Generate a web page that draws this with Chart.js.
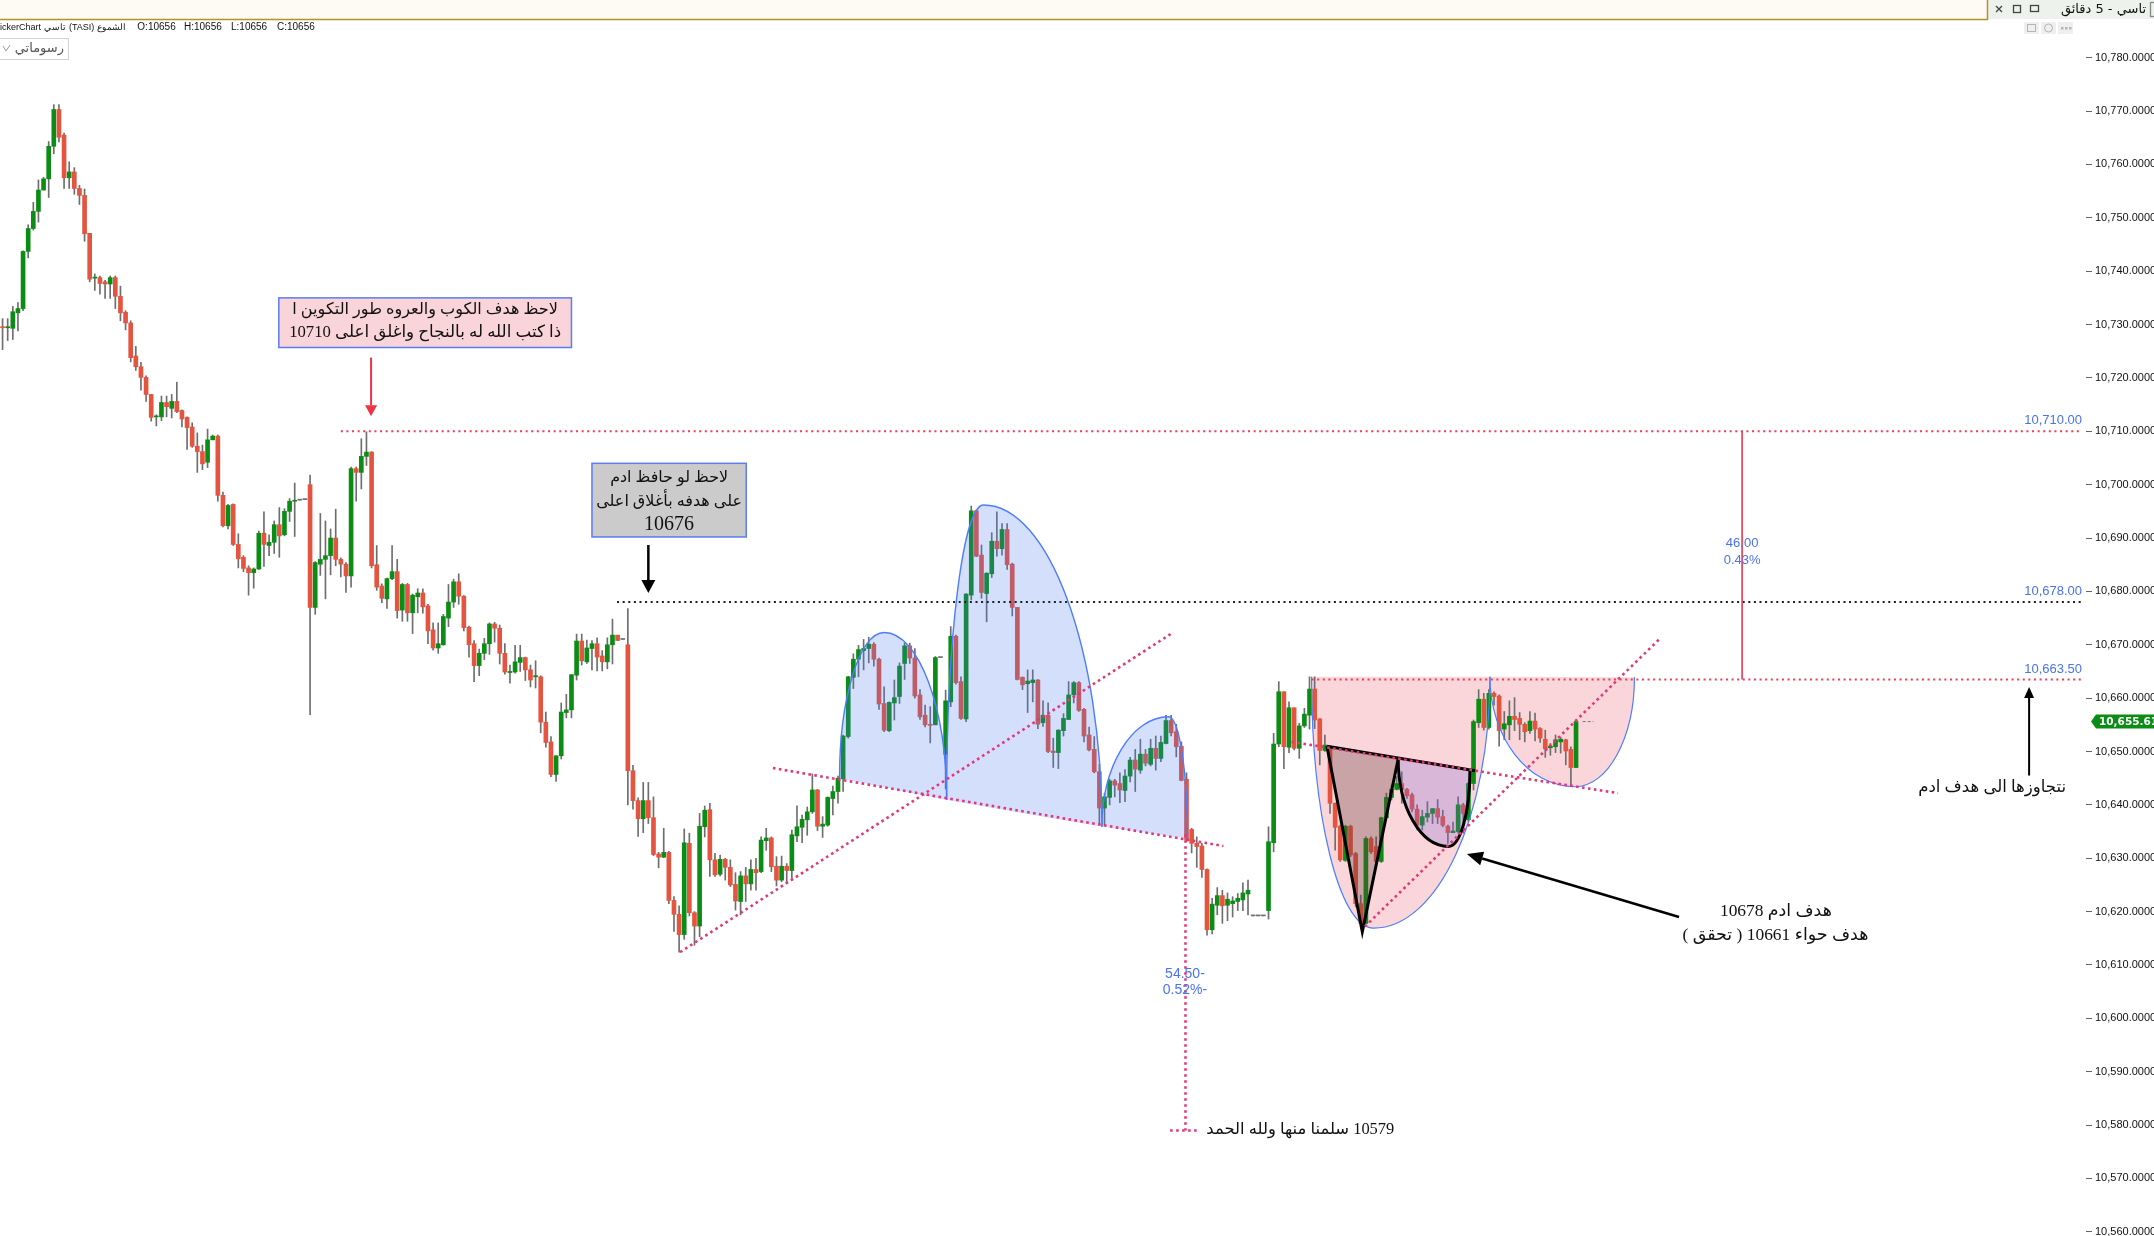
<!DOCTYPE html>
<html>
<head>
<meta charset="utf-8">
<title>تاسي - 5 دقائق</title>
<script src="https://cdn.jsdelivr.net/npm/chart.js@4.4.1/dist/chart.umd.min.js"></script>
<style>
  html, body { margin: 0; padding: 0; background: #fff; }
  #wrap { position: relative; width: 2154px; height: 1236px; }
</style>
</head>
<body>
<div id="wrap"><canvas id="chart"></canvas></div>
<script>
// 5 minute candles, TASI
const opens = [
  10729.6, 10729.4, 10729.3, 10732.2, 10733.0, 10743.7, 10748.0, 10751.2, 10755.2, 10757.3,
  10763.4, 10770.3, 10765.5, 10757.5, 10758.6, 10755.5, 10754.2, 10747.1, 10738.7, 10738.8,
  10738.0, 10737.6, 10738.8, 10735.3, 10732.3, 10730.3, 10724.1, 10722.1, 10720.1, 10716.9,
  10712.7, 10712.7, 10715.4, 10714.3, 10715.6, 10713.9, 10712.6, 10710.8, 10707.2, 10706.2,
  10704.2, 10708.4, 10709.1, 10698.0, 10692.3, 10696.3, 10688.8, 10686.4, 10684.4, 10683.5,
  10684.2, 10690.9, 10688.6, 10689.2, 10692.5, 10690.6, 10695.0, 10696.9, 10697.1, 10697.2,
  10700.0, 10677.0, 10685.1, 10686.0, 10686.7, 10690.0, 10686.0, 10685.1, 10682.9, 10703.0,
  10702.3, 10705.3, 10706.1, 10685.0, 10681.0, 10678.6, 10682.4, 10683.7, 10676.5, 10681.3,
  10676.0, 10679.0, 10679.7, 10677.3, 10672.8, 10669.4, 10670.0, 10675.0, 10678.0, 10681.8,
  10679.1, 10673.3, 10670.2, 10666.1, 10668.4, 10670.2, 10673.9, 10673.1, 10668.4, 10664.8,
  10664.9, 10666.7, 10667.6, 10665.3, 10664.0, 10664.0, 10655.5, 10651.8, 10645.7, 10649.2,
  10657.3, 10657.8, 10664.3, 10670.7, 10666.8, 10669.3, 10670.2, 10667.9, 10666.8, 10670.0,
  10671.8, 10671.0, 10670.0, 10646.4, 10640.8, 10637.4, 10640.8, 10637.6, 10630.8, 10630.2,
  10631.1, 10622.1, 10619.5, 10615.7, 10632.8, 10619.8, 10617.3, 10635.9, 10639.1, 10629.7,
  10627.0, 10629.8, 10628.3, 10625.1, 10621.9, 10626.7, 10625.2, 10627.9, 10627.5, 10633.3,
  10633.8, 10628.5, 10625.9, 10628.5, 10627.7, 10634.2, 10635.8, 10637.2, 10638.7, 10642.8,
  10636.0, 10636.2, 10641.2, 10642.5, 10644.9, 10652.8, 10663.9, 10667.3, 10668.9, 10669.3,
  10670.1, 10667.3, 10659.0, 10653.9, 10659.1, 10660.3, 10666.5, 10669.8, 10667.5, 10660.6,
  10656.8, 10655.1, 10655.0, 10667.6, 10649.5, 10659.3, 10671.6, 10663.1, 10656.1, 10679.3,
  10695.1, 10686.8, 10679.6, 10683.3, 10689.4, 10688.0, 10691.6, 10685.1, 10677.0, 10663.9,
  10662.7, 10662.9, 10663.4, 10655.4, 10656.8, 10650.1, 10649.8, 10653.9, 10656.0, 10660.6,
  10662.9, 10657.9, 10653.1, 10650.4, 10646.2, 10639.4, 10641.4, 10644.5, 10644.0, 10642.7,
  10645.4, 10648.4, 10646.5, 10649.5, 10647.6, 10650.6, 10648.7, 10651.5, 10655.8, 10653.7,
  10651.0, 10644.8, 10635.4, 10632.8, 10632.3, 10627.9, 10616.6, 10621.2, 10623.0, 10621.2,
  10621.5, 10621.9, 10622.2, 10623.3, 10619.2, 10619.2, 10619.2, 10620.2, 10632.9, 10651.4,
  10661.2, 10650.8, 10658.2, 10650.6, 10654.8, 10656.8, 10661.7, 10656.1, 10650.2, 10650.9,
  10640.3, 10636.0, 10629.6, 10636.0, 10630.9, 10621.5, 10617.8, 10633.7, 10632.2, 10629.4,
  10637.6, 10641.4, 10642.9, 10644.0, 10642.9, 10641.9, 10639.2, 10636.2, 10637.7, 10638.4,
  10639.3, 10637.8, 10636.0, 10634.8, 10635.0, 10640.0, 10637.2, 10644.0, 10655.4, 10659.8,
  10654.5, 10660.9, 10660.4, 10654.2, 10655.0, 10656.6, 10656.2, 10655.1, 10653.9, 10655.7,
  10654.3, 10652.3, 10650.7, 10650.9, 10651.8, 10652.2, 10650.4, 10647.0
];
const highs = [
  10731.1, 10731.1, 10733.4, 10734.1, 10743.8, 10748.7, 10752.9, 10757.1, 10757.6, 10764.3,
  10771.2, 10771.2, 10765.9, 10760.5, 10759.4, 10756.1, 10755.4, 10747.1, 10739.5, 10739.1,
  10738.3, 10739.1, 10739.1, 10737.2, 10732.6, 10730.7, 10725.9, 10722.9, 10720.4, 10716.9,
  10713.1, 10716.6, 10716.6, 10716.9, 10719.2, 10714.0, 10712.7, 10711.6, 10709.7, 10707.4,
  10710.4, 10709.3, 10709.3, 10698.6, 10696.3, 10696.4, 10690.8, 10686.7, 10684.8, 10684.4,
  10691.3, 10694.9, 10690.6, 10693.2, 10695.7, 10695.5, 10697.4, 10700.3, 10697.1, 10697.2,
  10701.8, 10685.6, 10694.6, 10693.2, 10691.7, 10695.4, 10686.3, 10685.4, 10703.3, 10703.3,
  10708.6, 10709.9, 10706.2, 10688.6, 10681.4, 10682.5, 10688.6, 10686.0, 10681.5, 10681.5,
  10679.5, 10680.5, 10680.5, 10677.6, 10674.1, 10674.1, 10675.7, 10681.3, 10682.3, 10683.3,
  10679.2, 10673.5, 10670.8, 10669.2, 10671.2, 10674.1, 10674.2, 10673.7, 10670.2, 10666.2,
  10669.9, 10669.9, 10667.7, 10666.2, 10667.0, 10664.2, 10657.4, 10652.8, 10649.2, 10659.1,
  10660.7, 10664.4, 10672.0, 10672.0, 10670.9, 10670.8, 10671.3, 10668.9, 10671.3, 10674.8,
  10671.8, 10671.0, 10676.8, 10647.4, 10641.3, 10644.2, 10644.2, 10641.5, 10631.1, 10635.6,
  10631.3, 10622.8, 10621.1, 10635.5, 10634.7, 10620.0, 10638.4, 10639.8, 10640.3, 10630.9,
  10630.6, 10630.0, 10629.7, 10627.3, 10627.5, 10628.3, 10629.7, 10630.0, 10634.0, 10635.6,
  10634.0, 10630.3, 10630.4, 10629.0, 10635.3, 10639.8, 10638.1, 10639.6, 10645.8, 10642.9,
  10637.8, 10641.5, 10643.5, 10645.4, 10653.1, 10664.1, 10668.3, 10669.9, 10671.0, 10671.4,
  10670.4, 10667.5, 10662.1, 10659.3, 10663.4, 10666.6, 10670.4, 10670.3, 10669.3, 10661.6,
  10658.7, 10658.4, 10667.8, 10667.6, 10661.5, 10673.4, 10671.8, 10664.0, 10679.6, 10696.0,
  10695.2, 10688.7, 10683.5, 10691.0, 10694.9, 10692.7, 10692.7, 10685.3, 10677.0, 10664.0,
  10665.3, 10665.3, 10663.5, 10659.5, 10659.1, 10652.5, 10654.1, 10657.1, 10663.1, 10663.1,
  10663.1, 10658.1, 10654.6, 10652.8, 10647.6, 10642.2, 10644.8, 10644.8, 10646.0, 10646.6,
  10648.9, 10650.4, 10652.3, 10650.4, 10652.3, 10652.9, 10652.9, 10656.8, 10656.8, 10655.1,
  10651.8, 10646.0, 10635.6, 10634.0, 10632.8, 10628.0, 10622.5, 10624.5, 10624.0, 10623.5,
  10622.8, 10623.4, 10625.4, 10625.9, 10619.2, 10619.2, 10619.2, 10635.9, 10653.4, 10663.1,
  10661.2, 10659.3, 10658.2, 10655.3, 10658.1, 10664.0, 10664.0, 10656.2, 10653.1, 10651.0,
  10640.4, 10636.2, 10636.2, 10636.2, 10631.1, 10623.1, 10634.0, 10634.0, 10634.0, 10637.7,
  10642.2, 10643.7, 10645.3, 10646.2, 10643.1, 10642.2, 10640.0, 10639.0, 10640.6, 10639.3,
  10641.0, 10639.0, 10636.2, 10636.8, 10641.5, 10640.3, 10644.3, 10655.9, 10661.6, 10660.9,
  10661.6, 10661.2, 10660.6, 10657.5, 10659.5, 10660.1, 10657.3, 10655.4, 10657.5, 10657.2,
  10654.5, 10654.0, 10651.5, 10653.1, 10652.7, 10652.3, 10650.9, 10655.9
];
const lows = [
  10725.3, 10727.0, 10727.2, 10728.8, 10732.6, 10742.5, 10747.7, 10749.2, 10755.2, 10753.8,
  10762.0, 10764.2, 10755.5, 10755.5, 10754.4, 10752.5, 10745.6, 10738.0, 10736.4, 10735.7,
  10734.9, 10734.9, 10733.0, 10730.7, 10729.0, 10723.0, 10721.4, 10717.7, 10715.6, 10711.9,
  10711.0, 10712.0, 10712.7, 10712.5, 10713.5, 10710.8, 10706.6, 10707.0, 10702.3, 10702.8,
  10703.2, 10708.4, 10696.9, 10692.1, 10691.7, 10688.6, 10684.4, 10683.7, 10679.3, 10680.6,
  10684.1, 10684.7, 10686.7, 10687.1, 10686.4, 10690.4, 10693.1, 10690.3, 10697.1, 10697.2,
  10656.9, 10675.7, 10683.0, 10678.6, 10683.1, 10684.8, 10682.7, 10679.8, 10680.8, 10696.9,
  10699.2, 10703.6, 10684.4, 10680.2, 10677.9, 10676.8, 10682.2, 10675.0, 10674.4, 10674.4,
  10672.1, 10676.0, 10675.9, 10670.2, 10669.0, 10668.4, 10669.9, 10673.4, 10677.0, 10677.6,
  10672.6, 10667.7, 10663.1, 10664.2, 10667.2, 10668.2, 10670.5, 10666.4, 10664.5, 10662.8,
  10664.7, 10665.0, 10663.3, 10662.1, 10661.9, 10653.5, 10650.8, 10645.3, 10644.4, 10648.6,
  10656.3, 10656.3, 10663.4, 10666.2, 10666.5, 10665.3, 10665.1, 10665.1, 10665.5, 10666.4,
  10670.8, 10671.0, 10640.0, 10639.2, 10634.1, 10634.8, 10636.5, 10630.5, 10628.2, 10630.1,
  10621.5, 10616.3, 10612.4, 10614.8, 10619.2, 10613.7, 10615.3, 10634.0, 10626.6, 10626.6,
  10626.7, 10625.9, 10624.7, 10620.3, 10619.4, 10621.9, 10624.0, 10624.0, 10627.3, 10631.5,
  10627.5, 10624.8, 10625.6, 10625.3, 10626.2, 10633.1, 10632.9, 10634.3, 10638.4, 10635.2,
  10633.9, 10636.0, 10638.1, 10640.3, 10642.5, 10652.5, 10661.8, 10664.0, 10665.3, 10666.6,
  10666.0, 10657.9, 10653.7, 10653.7, 10655.9, 10659.0, 10663.5, 10666.5, 10660.0, 10656.0,
  10654.6, 10651.6, 10655.0, 10667.6, 10643.0, 10658.4, 10662.6, 10656.0, 10655.6, 10678.4,
  10686.5, 10678.7, 10674.3, 10682.6, 10686.6, 10686.8, 10684.1, 10675.4, 10663.4, 10661.6,
  10657.3, 10659.3, 10654.3, 10654.7, 10649.8, 10647.0, 10646.8, 10652.9, 10656.0, 10659.1,
  10657.5, 10651.8, 10650.1, 10646.0, 10636.4, 10636.2, 10640.0, 10641.5, 10640.4, 10640.6,
  10644.3, 10642.5, 10645.9, 10647.3, 10647.3, 10646.5, 10648.1, 10651.4, 10652.9, 10649.0,
  10644.5, 10633.1, 10631.0, 10628.3, 10626.4, 10615.6, 10615.8, 10619.4, 10617.8, 10618.3,
  10619.0, 10620.2, 10620.2, 10619.4, 10619.2, 10619.2, 10619.2, 10618.6, 10631.2, 10650.9,
  10646.8, 10649.8, 10650.3, 10648.7, 10654.5, 10654.2, 10654.3, 10647.5, 10650.0, 10638.4,
  10631.5, 10629.4, 10629.4, 10630.3, 10620.9, 10616.8, 10617.7, 10630.9, 10629.2, 10629.2,
  10637.5, 10640.9, 10642.8, 10640.3, 10641.2, 10638.7, 10635.3, 10635.3, 10636.8, 10636.5,
  10636.5, 10635.9, 10632.8, 10634.8, 10634.7, 10634.7, 10636.9, 10642.8, 10654.5, 10654.0,
  10654.2, 10658.7, 10651.0, 10652.2, 10652.2, 10653.9, 10652.2, 10651.8, 10653.4, 10652.0,
  10651.7, 10648.9, 10649.3, 10649.8, 10649.7, 10647.5, 10643.4, 10647.0
];
const closes = [
  10729.4, 10729.6, 10732.4, 10733.0, 10743.7, 10748.0, 10751.2, 10755.2, 10757.3, 10763.4,
  10770.3, 10765.1, 10757.5, 10758.6, 10755.5, 10754.2, 10747.0, 10738.5, 10738.8, 10737.7,
  10737.6, 10738.8, 10735.3, 10732.2, 10730.3, 10723.8, 10722.1, 10720.1, 10716.9, 10712.6,
  10712.8, 10715.4, 10714.6, 10715.6, 10713.7, 10712.3, 10710.7, 10707.2, 10706.2, 10703.9,
  10708.4, 10709.1, 10698.0, 10692.3, 10696.1, 10688.8, 10686.1, 10684.3, 10683.5, 10684.2,
  10690.9, 10688.8, 10689.2, 10692.5, 10690.4, 10695.0, 10696.9, 10697.0, 10697.1, 10697.2,
  10677.0, 10685.4, 10686.0, 10686.7, 10690.0, 10686.0, 10685.1, 10682.9, 10703.0, 10702.3,
  10705.3, 10706.1, 10684.8, 10680.8, 10678.7, 10682.4, 10683.7, 10676.4, 10681.3, 10676.0,
  10679.3, 10679.7, 10677.1, 10672.6, 10669.4, 10670.2, 10675.3, 10678.0, 10681.8, 10679.1,
  10673.2, 10670.0, 10666.1, 10668.4, 10670.2, 10673.9, 10673.1, 10668.4, 10664.9, 10665.0,
  10666.8, 10667.6, 10665.3, 10663.4, 10664.2, 10655.5, 10651.7, 10645.7, 10649.2, 10657.4,
  10657.8, 10664.4, 10670.7, 10667.0, 10669.4, 10670.2, 10667.7, 10666.8, 10670.0, 10671.8,
  10670.8, 10671.0, 10646.4, 10640.8, 10637.4, 10640.8, 10637.6, 10630.7, 10630.2, 10631.1,
  10622.1, 10619.5, 10615.7, 10632.9, 10619.8, 10617.3, 10636.0, 10639.0, 10629.7, 10626.9,
  10629.8, 10628.3, 10625.0, 10622.0, 10626.7, 10625.2, 10627.9, 10627.3, 10633.4, 10633.8,
  10628.4, 10625.9, 10628.5, 10627.7, 10634.4, 10635.9, 10637.3, 10638.7, 10642.8, 10636.0,
  10636.4, 10641.4, 10642.5, 10645.0, 10652.9, 10664.0, 10667.3, 10669.1, 10669.3, 10670.1,
  10667.3, 10658.9, 10654.0, 10659.2, 10660.1, 10666.0, 10669.8, 10667.5, 10660.4, 10656.5,
  10655.0, 10654.9, 10667.6, 10667.6, 10659.5, 10671.6, 10662.9, 10656.2, 10679.5, 10695.1,
  10686.6, 10679.8, 10683.4, 10689.4, 10688.0, 10691.6, 10685.0, 10677.0, 10663.5, 10662.5,
  10663.2, 10663.4, 10655.1, 10656.8, 10650.0, 10649.8, 10654.0, 10656.2, 10660.6, 10662.9,
  10657.7, 10652.9, 10650.3, 10646.2, 10639.4, 10641.5, 10644.5, 10643.7, 10642.8, 10645.4,
  10648.4, 10646.7, 10649.5, 10647.8, 10650.6, 10648.7, 10651.7, 10655.8, 10653.5, 10650.9,
  10644.6, 10633.5, 10632.8, 10632.2, 10627.9, 10616.6, 10621.4, 10623.0, 10621.1, 10622.3,
  10622.0, 10622.5, 10623.5, 10624.0, 10619.2, 10619.2, 10619.2, 10633.1, 10651.4, 10661.2,
  10650.9, 10658.2, 10650.6, 10654.8, 10657.0, 10661.7, 10655.9, 10650.2, 10651.2, 10640.3,
  10635.8, 10629.7, 10636.0, 10630.6, 10621.5, 10617.8, 10633.7, 10631.2, 10629.4, 10637.6,
  10641.4, 10642.9, 10644.0, 10642.9, 10641.7, 10639.2, 10636.2, 10637.8, 10638.4, 10639.3,
  10637.7, 10636.2, 10634.8, 10635.1, 10640.0, 10638.4, 10644.0, 10655.6, 10659.8, 10654.5,
  10660.9, 10660.3, 10653.9, 10655.2, 10656.6, 10656.0, 10655.1, 10653.7, 10655.7, 10654.2,
  10652.5, 10650.5, 10651.0, 10652.2, 10652.3, 10650.1, 10647.0, 10655.6
];
const yTicks = [10560, 10570, 10580, 10590, 10600, 10610, 10620, 10630, 10640, 10650, 10660,
  10670, 10680, 10690, 10700, 10710, 10720, 10730, 10740, 10750, 10760, 10770, 10780];
const lastPrice = 10655.61;
const SLOTS = 407;   // candle slots across the plot, the right part is empty

// drawn objects, in [candle index, price]
const hsShapes = [
  [[163.3, 10645.0], [172.0, 10672.3], [184.2, 10640.9]],
  [[184.2, 10640.9], [191.4, 10696.2], [214.5, 10635.9]],
  [[214.5, 10635.9], [227.5, 10656.5], [231.2, 10633.7]]
];
const cup = [[255.4, 10664.0], [267.5, 10616.9], [290.2, 10664.0]];
const handle = [[290.2, 10664.0], [306.8, 10643.4], [318.4, 10663.9]];
const adam = [[258.4, 10651.0], [265.3, 10616.2], [272.3, 10648.6]];
const eve = [[272.3, 10648.6], [282.1, 10632.2], [286.3, 10646.5]];
const adamEveTop = [[258.4, 10651.0], [287.3, 10646.4]];
const neckline = [[150.3, 10646.9], [238.2, 10632.3]];
const upTrend = [[132.2, 10612.4], [228.2, 10672.2]];
const cupTrend = [[265.8, 10617.2], [323.3, 10671.1]];
const handleLine = [[251.5, 10651.8], [315.2, 10642.2]];
const dropLine = [[230.8, 10634.5], [230.8, 10579]];
const dropFoot = [[227.8, 10579], [233.2, 10579]];
const levelLines = [
  { price: 10710, from: 66.0, color: '#ee3b57', label: '10,710.00' },
  { price: 10678, from: 119.9, color: '#1e1e1e', label: '10,678.00' },
  { price: 10663.5, from: 255.4, color: '#ee3b57', label: '10,663.50' }
];
const measure = { x: 339.4, top: 10710, bottom: 10663.5, label1: '46.00', label2: '0.43%' };
const infoLine = ['ickerChart', 'تاسي', '(TASI)', 'الشموع'];
const ohlcLine = ['O:10656', 'H:10656', 'L:10656', 'C:10656'];
const ohlcX = [136, 184, 231, 277];

const UP = '#0b8c14', DOWN = '#e4543f', FLAT = '#707070', WICK = '#6e6e6e';
const TREND = '#e2377a', BLUE = '#4a72f2';
const SERIF = "'Liberation Serif', 'DejaVu Sans', serif";

const labels = Array.from({ length: SLOTS }, (_, i) => String(i));
const wicks = lows.map((l, i) => [l, highs[i]]);
const bodies = opens.map((o, i) => [o, closes[i]]);
const bodyColors = opens.map((o, i) => closes[i] > o ? UP : (closes[i] < o ? DOWN : FLAT));

function fmt(v) {
  return Number(v).toLocaleString('en-US', { minimumFractionDigits: 4, maximumFractionDigits: 4 });
}

function hump(ctx, a, p, b) {
  const k = 0.552;
  ctx.moveTo(a[0], a[1]);
  ctx.bezierCurveTo(a[0], a[1] + k * (p[1] - a[1]), p[0] - k * (p[0] - a[0]), p[1], p[0], p[1]);
  ctx.bezierCurveTo(p[0] + k * (b[0] - p[0]), p[1], b[0], b[1] + k * (p[1] - b[1]), b[0], b[1]);
}

function dotted(ctx, a, b, color, width, dash) {
  ctx.save();
  ctx.strokeStyle = color;
  ctx.lineWidth = width;
  ctx.setLineDash(dash);
  ctx.beginPath();
  ctx.moveTo(a[0], a[1]);
  ctx.lineTo(b[0], b[1]);
  ctx.stroke();
  ctx.restore();
}

function arrow(ctx, x1, y1, x2, y2, color, lw, head, half) {
  const ang = Math.atan2(y2 - y1, x2 - x1);
  const bx = x2 - head * Math.cos(ang), by = y2 - head * Math.sin(ang);
  ctx.save();
  ctx.strokeStyle = color;
  ctx.fillStyle = color;
  ctx.lineWidth = lw;
  ctx.beginPath();
  ctx.moveTo(x1, y1);
  ctx.lineTo(bx, by);
  ctx.stroke();
  ctx.beginPath();
  ctx.moveTo(x2, y2);
  ctx.lineTo(bx + half * Math.sin(ang), by - half * Math.cos(ang));
  ctx.lineTo(bx - half * Math.sin(ang), by + half * Math.cos(ang));
  ctx.closePath();
  ctx.fill();
  ctx.restore();
}

function fitText(ctx, str, cx, cy, targetW, maxSize, family, color) {
  ctx.save();
  ctx.direction = 'rtl';
  let size = maxSize;
  ctx.font = size + 'px ' + family;
  const w = ctx.measureText(str).width;
  if (w > targetW) {
    size = Math.max(10, size * targetW / w);
    ctx.font = size + 'px ' + family;
  }
  ctx.fillStyle = color;
  ctx.textAlign = 'center';
  ctx.textBaseline = 'middle';
  ctx.fillText(str, cx, cy);
  ctx.restore();
}

// writes words one after the other, left to right, each with its own direction
function wordRow(ctx, words, x, y, gap) {
  words.forEach(w => {
    ctx.direction = /[\u0600-\u06FF]/.test(w) ? 'rtl' : 'ltr';
    ctx.textAlign = 'left';
    ctx.fillText(w, x, y);
    x += ctx.measureText(w).width + gap;
  });
  ctx.direction = 'ltr';
  return x;
}

// cup and handle shading sits behind the candles
const underlay = {
  id: 'underlay',
  beforeDatasetsDraw(chart) {
    const { ctx, scales: { x, y } } = chart;
    const P = ([i, p]) => [x.getPixelForValue(i), y.getPixelForValue(p)];
    ctx.save();
    [cup, handle].forEach(shape => {
      const [a, m, b] = shape.map(P);
      ctx.beginPath();
      hump(ctx, a, m, b);
      ctx.closePath();
      ctx.fillStyle = 'rgba(236, 96, 112, 0.26)';
      ctx.fill();
    });
    ctx.restore();
  }
};

const overlay = {
  id: 'overlay',
  afterDraw(chart) {
    const { ctx, chartArea: area, scales: { x, y } } = chart;
    const X = i => x.getPixelForValue(i);
    const Y = p => y.getPixelForValue(p);
    const P = ([i, p]) => [X(i), Y(p)];
    const right = area.right - 4;

    ctx.save();

    // cup and handle outline
    [cup, handle].forEach(shape => {
      const [a, m, b] = shape.map(P);
      ctx.beginPath();
      hump(ctx, a, m, b);
      ctx.strokeStyle = '#4d7dff';
      ctx.lineWidth = 1.2;
      ctx.stroke();
    });

    // head and shoulders
    hsShapes.forEach(shape => {
      const [a, m, b] = shape.map(P);
      ctx.beginPath();
      hump(ctx, a, m, b);
      ctx.closePath();
      ctx.fillStyle = 'rgba(70, 120, 240, 0.24)';
      ctx.fill();
      ctx.beginPath();
      hump(ctx, a, m, b);
      ctx.strokeStyle = '#4d7dff';
      ctx.lineWidth = 1.4;
      ctx.stroke();
    });

    // adam (V) and eve (round bottom)
    const ad = adam.map(P);
    ctx.beginPath();
    ctx.moveTo(ad[0][0], ad[0][1]);
    ctx.lineTo(ad[1][0], ad[1][1]);
    ctx.lineTo(ad[2][0], ad[2][1]);
    ctx.closePath();
    ctx.fillStyle = 'rgba(100, 55, 55, 0.32)';
    ctx.fill();
    ctx.lineWidth = 3;
    ctx.lineJoin = 'miter';
    ctx.strokeStyle = '#000';
    ctx.beginPath();
    ctx.moveTo(ad[0][0], ad[0][1]);
    ctx.lineTo(ad[1][0], ad[1][1]);
    ctx.lineTo(ad[2][0], ad[2][1]);
    ctx.stroke();

    const ev = eve.map(P);
    ctx.beginPath();
    hump(ctx, ev[0], ev[1], ev[2]);
    ctx.closePath();
    ctx.fillStyle = 'rgba(125, 100, 215, 0.28)';
    ctx.fill();
    ctx.beginPath();
    hump(ctx, ev[0], ev[1], ev[2]);
    ctx.stroke();

    const tp = adamEveTop.map(P);
    ctx.beginPath();
    ctx.moveTo(tp[0][0], tp[0][1]);
    ctx.lineTo(tp[1][0], tp[1][1]);
    ctx.stroke();

    // horizontal levels with their labels
    levelLines.forEach(l => {
      dotted(ctx, [X(l.from), Y(l.price)], [right, Y(l.price)], l.color, 2, [2, 3.6]);
      ctx.fillStyle = BLUE;
      ctx.font = "13px 'Liberation Sans', Arial, sans-serif";
      ctx.textAlign = 'right';
      ctx.textBaseline = 'bottom';
      ctx.fillText(l.label, right, Y(l.price) - 4);
    });

    // trend lines
    [neckline, upTrend, cupTrend, handleLine, dropLine, dropFoot].forEach(seg => {
      dotted(ctx, P(seg[0]), P(seg[1]), TREND, 2.6, [2.6, 3.4]);
    });

    // measured move
    ctx.strokeStyle = '#e8394f';
    ctx.lineWidth = 1.6;
    ctx.setLineDash([]);
    ctx.beginPath();
    ctx.moveTo(X(measure.x), Y(measure.top));
    ctx.lineTo(X(measure.x), Y(measure.bottom));
    ctx.stroke();
    ctx.fillStyle = BLUE;
    ctx.font = "13px 'Liberation Sans', Arial, sans-serif";
    ctx.textAlign = 'center';
    ctx.textBaseline = 'middle';
    ctx.fillText(measure.label1, X(measure.x), Y(10689.0));
    ctx.fillText(measure.label2, X(measure.x), Y(10685.8));

    ctx.font = "14px 'Liberation Sans', Arial, sans-serif";
    ctx.fillText('54.50-', X(230.7), Y(10608.3));
    ctx.fillText('0.52%-', X(230.7), Y(10605.3));

    // current price stub
    dotted(ctx, [X(308.3), Y(lastPrice)], [X(310.4), Y(lastPrice)], '#777', 1, [3, 2]);

    // arrows
    arrow(ctx, X(71.9), Y(10723.8), X(71.9), Y(10712.8), '#ee3346', 2, 11, 6);
    arrow(ctx, X(126.0), Y(10688.7), X(126.0), Y(10679.7), '#000', 2.5, 13, 7);
    arrow(ctx, X(327.1), Y(10619.0), X(285.7), Y(10630.8), '#000', 2.5, 16, 7);
    arrow(ctx, X(395.4), Y(10645.5), X(395.4), Y(10662.1), '#000', 2, 11, 5);

    // note boxes
    const pb = { x1: X(53.9), x2: X(111.0), y1: Y(10735.0), y2: Y(10725.7) };
    ctx.fillStyle = '#f9d4d8';
    ctx.fillRect(pb.x1, pb.y1, pb.x2 - pb.x1, pb.y2 - pb.y1);
    ctx.strokeStyle = '#5b7df0';
    ctx.lineWidth = 1.5;
    ctx.strokeRect(pb.x1, pb.y1, pb.x2 - pb.x1, pb.y2 - pb.y1);
    const pcx = (pb.x1 + pb.x2) / 2;
    fitText(ctx, 'لاحظ هدف الكوب والعروه طور التكوين ا', pcx, Y(10732.7), 266, 18, SERIF, '#111');
    fitText(ctx, 'ذا كتب الله له بالنجاح واغلق اعلى 10710', pcx, Y(10728.5), 272, 18, SERIF, '#111');

    const gb = { x1: X(115.0), x2: X(145.1), y1: Y(10704.0), y2: Y(10690.2) };
    ctx.fillStyle = '#cbcbcb';
    ctx.fillRect(gb.x1, gb.y1, gb.x2 - gb.x1, gb.y2 - gb.y1);
    ctx.strokeStyle = '#5b7df0';
    ctx.strokeRect(gb.x1, gb.y1, gb.x2 - gb.x1, gb.y2 - gb.y1);
    const gcx = (gb.x1 + gb.x2) / 2;
    fitText(ctx, 'لاحظ لو حافظ ادم', gcx, Y(10701.2), 118, 18, SERIF, '#111');
    fitText(ctx, 'على هدفه بأغلاق اعلى', gcx, Y(10696.8), 146, 18, SERIF, '#111');
    fitText(ctx, '10676', gcx, Y(10692.4), 60, 20, SERIF, '#111');

    // free notes
    fitText(ctx, 'هدف ادم 10678', X(346.0), Y(10620.0), 112, 19, SERIF, '#111');
    fitText(ctx, 'هدف حواء 10661 ( تحقق )', X(345.9), Y(10615.5), 186, 19, SERIF, '#111');
    fitText(ctx, 'نتجاوزها الى هدف ادم', X(388.2), Y(10643.3), 148, 18, SERIF, '#111');
    fitText(ctx, '10579 سلمنا منها ولله الحمد', X(253.2), Y(10579.2), 188, 21, SERIF, '#111');

    // last price tag on the axis
    const ty = Y(lastPrice);
    const tx = area.right + 5;
    ctx.beginPath();
    ctx.moveTo(tx, ty);
    ctx.lineTo(tx + 5, ty - 7);
    ctx.lineTo(2154, ty - 7);
    ctx.lineTo(2154, ty + 7);
    ctx.lineTo(tx + 5, ty + 7);
    ctx.closePath();
    ctx.fillStyle = '#0b8c14';
    ctx.fill();
    ctx.fillStyle = '#fff';
    ctx.font = "bold 10.5px 'DejaVu Sans', sans-serif";
    ctx.textAlign = 'left';
    ctx.textBaseline = 'middle';
    ctx.direction = 'ltr';
    ctx.fillText('10,655.6100', tx + 8, ty + 0.5);

    // window header
    ctx.fillStyle = '#fdfbf3';
    ctx.fillRect(0, 0, 1987, 19);
    ctx.fillStyle = '#eef2ec';
    ctx.fillRect(1987, 0, 167, 19);
    ctx.strokeStyle = '#b8902a';
    ctx.lineWidth = 1.5;
    ctx.beginPath();
    ctx.moveTo(0, 19.5);
    ctx.lineTo(1987.5, 19.5);
    ctx.lineTo(1987.5, 0);
    ctx.stroke();
    ctx.fillStyle = '#111';
    ctx.font = "13px 'DejaVu Sans', sans-serif";
    ctx.direction = 'rtl';
    ctx.textAlign = 'right';
    ctx.textBaseline = 'middle';
    ctx.fillText('تاسي - 5 دقائق', 2146, 10);
    ctx.direction = 'ltr';
    ctx.strokeStyle = '#444';
    ctx.lineWidth = 1.3;
    ctx.beginPath();
    ctx.moveTo(1996, 6); ctx.lineTo(2002, 12);
    ctx.moveTo(2002, 6); ctx.lineTo(1996, 12);
    ctx.stroke();
    ctx.strokeRect(2013.5, 5.5, 7, 7);
    ctx.strokeRect(2030.5, 5.5, 8, 6);
    ctx.strokeStyle = '#888';
    ctx.strokeRect(2150.5, 2.5, 6, 14);

    // small toolbar icons under the header
    ctx.fillStyle = '#efefef';
    [2024, 2041, 2058].forEach(px => ctx.fillRect(px, 22, 15, 12));
    ctx.strokeStyle = '#b5b5b5';
    ctx.lineWidth = 1;
    ctx.strokeRect(2027.5, 24.5, 8, 7);
    ctx.beginPath();
    ctx.arc(2048.5, 28, 4, 0, Math.PI * 2);
    ctx.stroke();
    ctx.fillStyle = '#b5b5b5';
    [2061, 2065, 2069].forEach(px => ctx.fillRect(px, 27, 2.5, 2.5));

    // instrument line
    ctx.fillStyle = '#111';
    ctx.font = "9px 'Liberation Sans', Arial, sans-serif";
    ctx.textBaseline = 'middle';
    let cursor = wordRow(ctx, infoLine, 0, 27.5, 3) + 8;
    ctx.font = "10px 'Liberation Sans', Arial, sans-serif";
    ohlcLine.forEach((t, k) => {
      cursor = wordRow(ctx, [t], Math.max(ohlcX[k], cursor), 27.5, 0) + 6;
    });

    // drawings button
    ctx.strokeStyle = '#d2d2d2';
    ctx.strokeRect(-0.5, 38.5, 69, 21);
    ctx.fillStyle = '#555';
    ctx.font = "13px 'DejaVu Sans', sans-serif";
    ctx.direction = 'rtl';
    ctx.textAlign = 'right';
    ctx.fillText('رسوماتي', 64, 49);
    ctx.direction = 'ltr';
    ctx.strokeStyle = '#999';
    ctx.beginPath();
    ctx.moveTo(3, 46); ctx.lineTo(6, 51); ctx.lineTo(10, 45);
    ctx.stroke();

    ctx.restore();
  }
};

Chart.defaults.font.family = "'Liberation Sans', Arial, sans-serif";

new Chart(document.getElementById('chart'), {
  type: 'bar',
  data: {
    labels: labels,
    datasets: [{
      label: 'wick',
      data: wicks,
      backgroundColor: WICK,
      barThickness: 1,
      grouped: false,
      order: 2
    }, {
      label: 'body',
      data: bodies,
      backgroundColor: bodyColors,
      barThickness: 4,
      minBarLength: 1,
      grouped: false,
      order: 1
    }]
  },
  options: {
    responsive: true,
    maintainAspectRatio: false,
    animation: false,
    devicePixelRatio: 1,
    layout: { padding: { top: 22, left: 0, right: 0, bottom: 0 } },
    plugins: {
      legend: { display: false },
      tooltip: { enabled: false }
    },
    scales: {
      x: { display: false, offset: true },
      y: {
        position: 'right',
        min: 10559.22,
        max: 10786.69,
        afterBuildTicks: axis => { axis.ticks = yTicks.map(v => ({ value: v })); },
        afterFit: axis => { axis.width = 68; axis.paddingTop = 0; axis.paddingBottom = 0; },
        grid: { drawOnChartArea: false, drawTicks: true, tickLength: 6, tickColor: '#666' },
        border: { display: false },
        ticks: {
          color: '#111',
          font: { size: 11 },
          padding: 3,
          autoSkip: false,
          callback: v => fmt(v)
        }
      }
    }
  },
  plugins: [underlay, overlay]
});
</script>
</body>
</html>
